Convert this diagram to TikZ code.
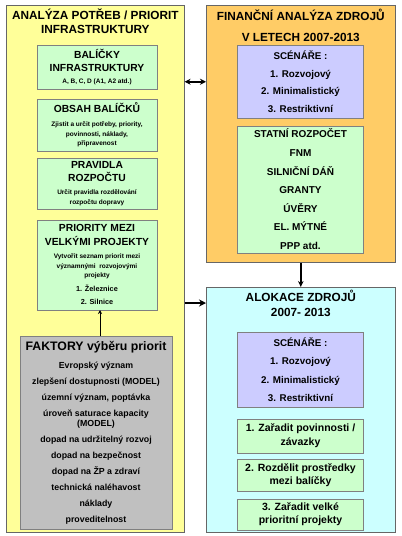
\documentclass[tikz,border=0pt]{standalone}
\usepackage{fontspec}
\setmainfont{Liberation Sans}
\usepackage{xcolor}
\usetikzlibrary{arrows.meta, positioning}

\definecolor{yelfill}{HTML}{FFFF99}
\definecolor{orafill}{HTML}{FFCC66}
\definecolor{grnfill}{HTML}{CCFFCC}
\definecolor{purfill}{HTML}{CCCCFF}
\definecolor{cyafill}{HTML}{CCFFFF}
\definecolor{gryfill}{HTML}{C0C0C0}

% per-line sizes (fonts reset after \\ inside nodes)
\newcommand{\bxt}[1]{{\fontsize{10.3}{12}\selectfont #1}}
\newcommand{\lst}[1]{{\fontsize{7.3}{9}\selectfont #1}}
\newcommand{\fkt}[1]{{\fontsize{12.3}{14}\selectfont #1}}

\begin{document}
\begin{tikzpicture}[x=1pt, y=1pt,
    panel/.style={rectangle, draw=black!60, line width=0.6pt, anchor=north west,
                  inner sep=0pt, minimum width=189pt},
    head/.style={align=center, inner sep=0pt, font=\bfseries\fontsize{11.8}{#1}\selectfont},
    box/.style={rectangle, draw=black!50, line width=0.5pt, align=center, inner sep=0pt,
                minimum width=120pt, font=\bfseries\fontsize{6.5}{9.5}\selectfont},
    gbox/.style={box, fill=grnfill},
    pbox/.style={box, fill=purfill, minimum width=126pt, font=\bfseries\fontsize{9.8}{#1}\selectfont},
    rbox/.style={box, fill=grnfill, minimum width=126pt, font=\bfseries\fontsize{10.5}{13.5}\selectfont},
    arr/.style={-{Stealth[length=7pt, width=7pt]}, line width=2pt},
  ]
    \useasboundingbox (0,0) rectangle (402,-536);

    % Panels
    \node[panel, fill=yelfill, minimum width=178pt, minimum height=527pt] (ana) at (6,-5) {};
    \node[panel, fill=orafill, minimum height=257pt] (fin) at (206,-5) {};
    \node[panel, fill=cyafill, minimum height=245pt] (alo) at (206,-287) {};

    % Headings
    \node[head=14, below=4pt of ana.north] (anat) {ANALÝZA POTŘEB / PRIORIT\\INFRASTRUKTURY};
    \node[head=21, below=4pt of fin.north] (fint) {FINANČNÍ ANALÝZA ZDROJŮ\\V LETECH 2007-2013};
    \node[head=15, below=2.5pt of alo.north] (alot) {ALOKACE ZDROJŮ\\2007- 2013};

    % Left column
    \node[gbox, minimum height=44pt, anchor=north] (bal) at (97,-45)
      {\bxt{BALÍČKY}\\[3.5pt]\bxt{INFRASTRUKTURY}\\[2.5pt]A, B, C, D (A1, A2 atd.)};
    \node[gbox, minimum height=52pt, below=9pt of bal] (obs)
      {\bxt{OBSAH BALÍČKŮ}\\[4.5pt]Zjistit a určit potřeby, priority,\\
       povinnosti, náklady,\\připravenost};
    \node[gbox, minimum height=51pt, below=7pt of obs] (pra)
      {\bxt{PRAVIDLA}\\[3.5pt]\bxt{ROZPOČTU}\\[3.5pt]Určit pravidla rozdělování\\rozpočtu dopravy};
    \node[gbox, minimum height=90pt, below=10pt of pra] (pri)
      {\bxt{PRIORITY MEZI}\\[4.5pt]\bxt{VELKÝMI PROJEKTY}\\[3.5pt]Vytvořit seznam priorit mezi\\
       významnými \ rozvojovými\\projekty\\[4.5pt]\lst{1. Železnice}\\[3.5pt]\lst{2. Silnice}};
    \node[box, fill=gryfill, minimum width=152pt, minimum height=193pt,
          font=\bfseries\fontsize{8.8}{16}\selectfont, below=26pt of pri, xshift=-1pt] (fak)
      {\fkt{FAKTORY výběru priorit}\\[2pt]Evropský význam\\zlepšení dostupnosti (MODEL)\\
       územní význam, poptávka\\úroveň saturace kapacity\\[-6pt](MODEL)\\
       dopad na udržitelný rozvoj\\dopad na bezpečnost\\dopad na ŽP a zdraví\\
       technická naléhavost\\náklady\\proveditelnost};

    % Financial sources
    \node[pbox=17.7, minimum height=73pt, anchor=north] (scen1) at (300.5,-45)
      {SCÉNÁŘE :\\1. Rozvojový\\2. Minimalistický\\3. Restriktivní};
    \node[gbox, minimum width=126pt, minimum height=127pt, font=\bfseries\fontsize{10}{18.6}\selectfont,
          below=7pt of scen1] (zdr)
      {STATNÍ ROZPOČET\\FNM\\SILNIČNÍ DÁŇ\\GRANTY\\ÚVĚRY\\EL. MÝTNÉ\\PPP atd.};

    % Allocation
    \node[pbox=18.5, minimum height=75pt, anchor=north] (scen2) at (300.5,-332)
      {SCÉNÁŘE :\\1. Rozvojový\\2. Minimalistický\\3. Restriktivní};
    \node[rbox, minimum height=34pt, below=11pt of scen2] (zar)
      {1. Zařadit povinnosti /\\závazky};
    \node[rbox, minimum height=32pt, below=6pt of zar] (roz)
      {2. Rozdělit prostředky\\mezi balíčky};
    \node[rbox, minimum height=31pt, below=7pt of roz] (vel)
      {3. Zařadit velké\\prioritní projekty};

    % Arrows
    \draw[{Stealth[length=6pt, width=6pt]}-{Stealth[length=6pt, width=6pt]}, line width=1.8pt]
      (ana.east |- scen1) -- (fin.west |- scen1);
    \coordinate (aloin) at ([yshift=-16pt]alo.north west);
    \draw[arr] (ana.east |- aloin) -- (aloin);
    \draw[arr, line width=1.4pt, -{Stealth[length=6pt, width=5.5pt]}] (fin.south) -- (alo.north);
    \coordinate (fakup) at ([xshift=4pt]fak.north);
    \draw[-{Stealth[length=4pt, width=4pt]}, line width=0.8pt] (fakup) -- (fakup |- pri.south);
\end{tikzpicture}
\end{document}
